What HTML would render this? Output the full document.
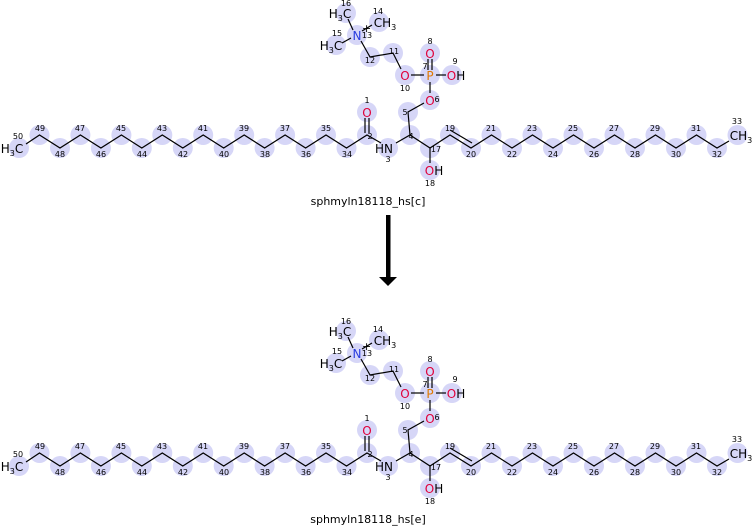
<!DOCTYPE html>
<html><head><meta charset="utf-8"><style>
html,body{margin:0;padding:0;background:#fff;}
svg{display:block;font-family:"DejaVu Sans","Liberation Sans",sans-serif;}
.h{fill:#d6d6f7;}
.b{stroke:#000;stroke-width:1.2;fill:none;}
.n{font-size:8px;fill:#000;text-anchor:middle;}
.a{font-size:12px;text-anchor:middle;}
</style></head><body>
<svg width="756" height="526" viewBox="0 0 756 526">
<defs>
<g id="m">
<g class="h">
<circle cx="19" cy="148" r="10"/><circle cx="39.5" cy="135" r="10"/><circle cx="60" cy="148" r="10"/><circle cx="80.4" cy="135" r="10"/><circle cx="100.9" cy="148" r="10"/><circle cx="121.4" cy="135" r="10"/><circle cx="141.8" cy="148" r="10"/><circle cx="162.3" cy="135" r="10"/><circle cx="182.8" cy="148" r="10"/><circle cx="203.2" cy="135" r="10"/><circle cx="223.7" cy="148" r="10"/><circle cx="244.2" cy="135" r="10"/><circle cx="264.6" cy="148" r="10"/><circle cx="285.1" cy="135" r="10"/><circle cx="305.6" cy="148" r="10"/><circle cx="326" cy="135" r="10"/><circle cx="346.5" cy="148" r="10"/><circle cx="367" cy="135" r="10"/>
<circle cx="367" cy="112" r="10"/><circle cx="388" cy="148" r="10"/><circle cx="410" cy="135" r="10"/><circle cx="408" cy="112" r="10"/><circle cx="430" cy="100" r="10"/><circle cx="430" cy="75" r="10"/><circle cx="430" cy="53" r="10"/><circle cx="452" cy="75" r="10"/><circle cx="405" cy="75" r="10"/><circle cx="393" cy="53" r="10"/><circle cx="370" cy="57" r="10"/><circle cx="357" cy="35" r="10"/><circle cx="379" cy="22" r="10"/><circle cx="336" cy="45" r="10"/><circle cx="346" cy="13" r="10"/><circle cx="430" cy="148" r="10"/><circle cx="430" cy="170" r="10"/>
<circle cx="450" cy="135" r="10"/><circle cx="471" cy="148" r="10"/><circle cx="491.5" cy="135" r="10"/><circle cx="512" cy="148" r="10"/><circle cx="532.5" cy="135" r="10"/><circle cx="553" cy="148" r="10"/><circle cx="573.5" cy="135" r="10"/><circle cx="594" cy="148" r="10"/><circle cx="614.5" cy="135" r="10"/><circle cx="635" cy="148" r="10"/><circle cx="655.5" cy="135" r="10"/><circle cx="676" cy="148" r="10"/><circle cx="696.5" cy="135" r="10"/><circle cx="717" cy="148" r="10"/><circle cx="737.5" cy="135" r="10"/>
</g>
<polyline class="b" points="26,144 39.5,135 60,148 80.4,135 100.9,148 121.4,135 141.8,148 162.3,135 182.8,148 203.2,135 223.7,148 244.2,135 264.6,148 285.1,135 305.6,148 326,135 346.5,148 367,135 381,143"/>
<polyline class="b" points="396,143 410,135 430,148 450,135 471,148 491.5,135 512,148 532.5,135 553,148 573.5,135 594,148 614.5,135 635,148 655.5,135 676,148 696.5,135 717,148 729,141"/>
<line class="b" x1="450" y1="130" x2="472" y2="143"/>
<line class="b" x1="365" y1="133" x2="365" y2="118"/><line class="b" x1="369" y1="133" x2="369" y2="118"/>
<polyline class="b" points="410,135 408,112 424,103"/>
<line class="b" x1="430" y1="148" x2="430" y2="163"/>
<line class="b" x1="430" y1="93" x2="430" y2="82"/>
<line class="b" x1="428" y1="70" x2="428" y2="59"/><line class="b" x1="432" y1="70" x2="432" y2="59"/>
<line class="b" x1="436" y1="75" x2="446" y2="75"/><line class="b" x1="424" y1="75" x2="411" y2="75"/>
<polyline class="b" points="401,69 393,53 370,57 361,41"/>
<line class="b" x1="351" y1="38" x2="342" y2="43"/><line class="b" x1="353" y1="30" x2="348" y2="19"/><line class="b" x1="362" y1="31" x2="372" y2="25"/>
<text class="a" x="12" y="153">H<tspan font-size="8" dy="3">3</tspan><tspan dy="-3">C</tspan></text>
<text class="a" x="367" y="117" fill="#e0003a">O</text>
<text class="a" x="384" y="153">HN</text>
<text class="a" x="430" y="105" fill="#e0003a">O</text>
<text class="a" x="430" y="80" fill="#e07800">P</text>
<text class="a" x="430" y="58" fill="#e0003a">O</text>
<text class="a" x="456" y="80" fill="#e0003a">O<tspan fill="#000">H</tspan></text>
<text class="a" x="405" y="80" fill="#e0003a">O</text>
<text class="a" x="434" y="175" fill="#e0003a">O<tspan fill="#000">H</tspan></text>
<text class="a" x="357" y="40" fill="#2a3de0">N</text>
<text x="362" y="32" font-size="11">+</text>
<text class="a" x="331" y="50">H<tspan font-size="8" dy="3">3</tspan><tspan dy="-3">C</tspan></text>
<text class="a" x="340" y="18">H<tspan font-size="8" dy="3">3</tspan><tspan dy="-3">C</tspan></text>
<text class="a" x="385" y="27">CH<tspan font-size="8" dy="3">3</tspan></text>
<text class="a" x="741" y="140">CH<tspan font-size="8" dy="3">3</tspan></text>
<g class="n">
<text x="18" y="139">50</text><text x="40" y="131">49</text><text x="60" y="157">48</text><text x="80" y="131">47</text><text x="101" y="157">46</text><text x="121" y="131">45</text><text x="142" y="157">44</text><text x="162" y="131">43</text><text x="183" y="157">42</text><text x="203" y="131">41</text><text x="224" y="157">40</text><text x="244" y="131">39</text><text x="265" y="157">38</text><text x="285" y="131">37</text><text x="306" y="157">36</text><text x="326" y="131">35</text><text x="347" y="157">34</text>
<text x="370" y="139">2</text><text x="367" y="103">1</text><text x="388" y="162">3</text><text x="411" y="139">4</text><text x="405" y="115">5</text><text x="437" y="102">6</text><text x="425" y="69">7</text><text x="430" y="44">8</text><text x="455" y="64">9</text><text x="405" y="91">10</text><text x="394" y="54">11</text><text x="370" y="63">12</text><text x="367" y="38">13</text><text x="378" y="14">14</text><text x="337" y="36">15</text><text x="346" y="6">16</text><text x="436" y="152">17</text><text x="430" y="186">18</text>
<text x="450" y="131">19</text><text x="471" y="157">20</text><text x="491" y="131">21</text><text x="512" y="157">22</text><text x="532" y="131">23</text><text x="553" y="157">24</text><text x="573" y="131">25</text><text x="594" y="157">26</text><text x="614" y="131">27</text><text x="635" y="157">28</text><text x="655" y="131">29</text><text x="676" y="157">30</text><text x="696" y="131">31</text><text x="717" y="157">32</text><text x="737" y="124">33</text>
</g>
</g>
</defs>
<use href="#m"/>
<use href="#m" y="318"/>
<text x="368" y="205" font-size="11" text-anchor="middle">sphmyln18118_hs[c]</text>
<text x="368" y="523" font-size="11" text-anchor="middle">sphmyln18118_hs[e]</text>
<rect x="386" y="215" width="4.5" height="63" fill="#000"/>
<polygon points="379,277 397,277 388,286" fill="#000"/>
</svg>
</body></html>
